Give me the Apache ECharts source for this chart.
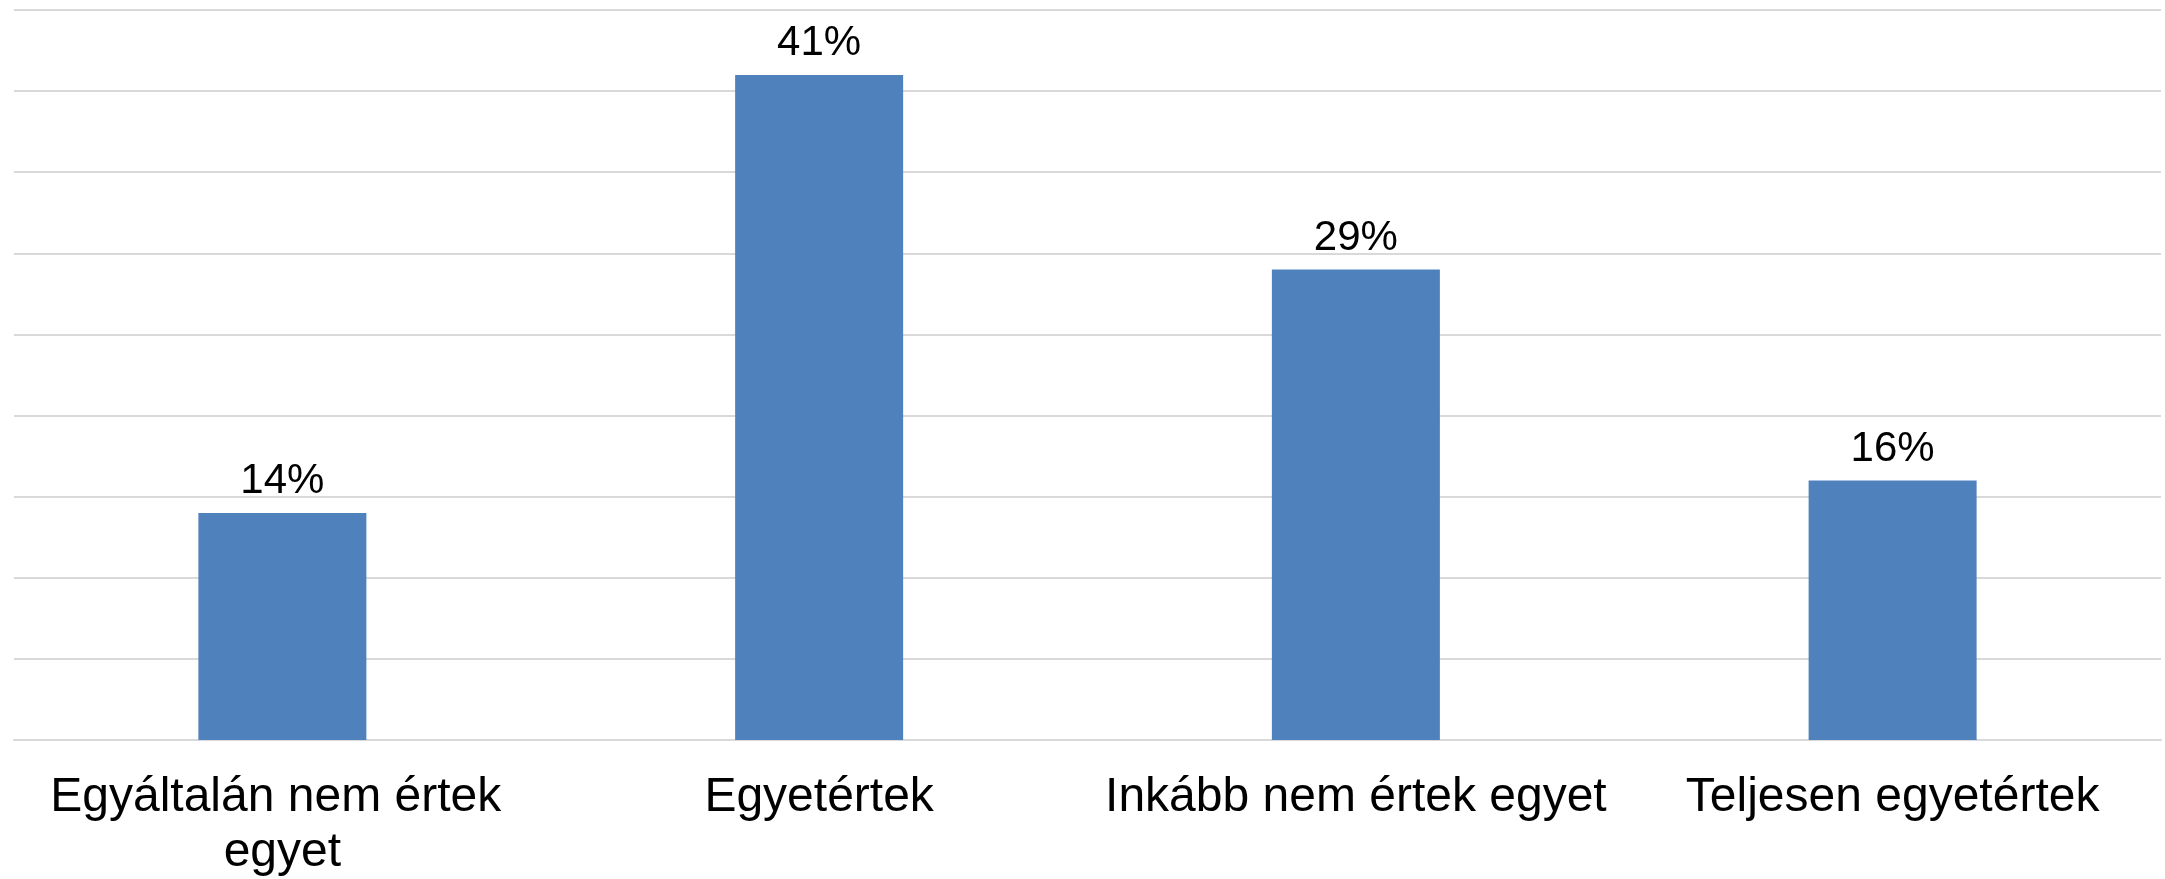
<!DOCTYPE html>
<html>
<head>
<meta charset="utf-8">
<script src="https://cdn.jsdelivr.net/npm/echarts@6/dist/echarts.min.js"></script>
<style>
html,body{margin:0;padding:0;background:#fff;}
#chart{width:2165px;height:879px;}
</style>
</head>
<body>
<div id="chart"></div>
<script>
const categories = ["Egyáltalán nem értek egyet", "Egyetértek", "Inkább nem értek egyet", "Teljesen egyetértek"];
const values = [14, 41, 29, 16];
const yMin = 0, yMax = 45, yStep = 5;

const chart = echarts.init(document.getElementById('chart'), null, {renderer: 'canvas'});
chart.setOption({
  animation: false,
  backgroundColor: '#ffffff',
  grid: {left: 14, right: 4, top: 10, bottom: 139, containLabel: false, outerBoundsMode: 'none'},
  xAxis: {
    type: 'category',
    data: categories,
    axisLine: {show: true, lineStyle: {color: '#d9d9d9', width: 2}},
    axisTick: {show: false},
    axisLabel: {
      interval: 0,
      margin: 30,
      color: '#000000',
      fontFamily: '"Liberation Sans", Arial, sans-serif',
      fontSize: 48,
      lineHeight: 55,
      width: 560,
      overflow: 'break'
    }
  },
  yAxis: {
    type: 'value',
    min: yMin, max: yMax, interval: yStep,
    axisLine: {show: false},
    axisTick: {show: false},
    axisLabel: {show: false},
    splitLine: {show: true, lineStyle: {color: '#d9d9d9', width: 2}}
  },
  series: [{
    type: 'bar',
    data: values,
    barWidth: '31.3%',
    itemStyle: {color: '#4f81bd'},
    label: {
      show: true,
      position: 'top',
      distance: 10,
      formatter: '{c}%',
      color: '#000000',
      fontFamily: '"Liberation Sans", Arial, sans-serif',
      fontSize: 42
    }
  }]
});
</script>
</body>
</html>
